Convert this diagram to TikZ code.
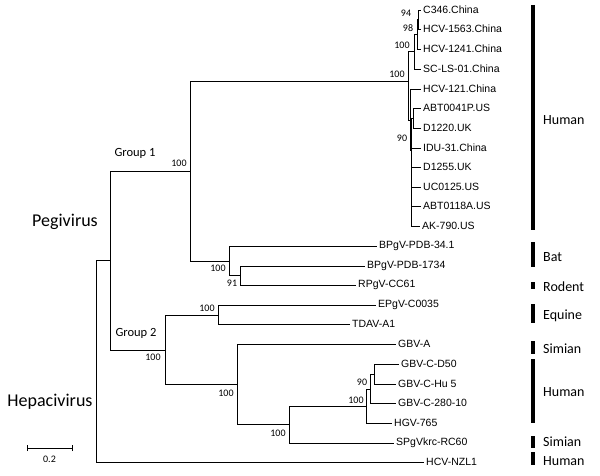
\documentclass[tikz,border=0pt]{standalone}
\usepackage{fontspec}
\setmainfont{Carlito}
\newfontfamily\arialf{Liberation Sans}
\begin{document}
\begin{tikzpicture}[x=1pt,y=-1pt,
  br/.style={draw=black,line width=0.8pt},
  leaf/.style={anchor=west,inner xsep=2pt,inner ysep=0pt,font=\arialf\fontsize{10.5}{12}\selectfont},
  boot/.style={inner sep=0pt,font=\fontsize{10}{11}\selectfont},
  grp/.style={inner sep=0pt,font=\fontsize{12.5}{14}\selectfont},
  genus/.style={inner sep=0pt,font=\fontsize{18}{20}\selectfont},
  host/.style={anchor=west,inner sep=0pt,font=\fontsize{14}{16}\selectfont},
  bar/.style={draw=black,line width=4.5pt}]
\useasboundingbox (0,0) rectangle (600,476);
% internal nodes
\coordinate (R) at (96,360);
\coordinate (P) at (110,260);
\coordinate (G1) at (190,171);
\coordinate (H) at (408,81);
\coordinate (A3) at (414,51.5);
\coordinate (A2) at (417,34);
\coordinate (A1) at (418,19.5);
\coordinate (B) at (410,120);
\coordinate (N90) at (411,150);
\coordinate (ABTD) at (413,118);
\coordinate (BR) at (229,261);
\coordinate (N91) at (240,275);
\coordinate (G2) at (165,350);
\coordinate (EQ) at (218,315);
\coordinate (SH) at (237,384);
\coordinate (GC) at (289,424);
\coordinate (NC) at (366,406);
\coordinate (N90b) at (370,389);
\coordinate (DH) at (374,374);
% leaves
\node[leaf] (l1) at (421,10) {C346.China};
\node[leaf] (l2) at (421,29) {HCV-1563.China};
\node[leaf] (l3) at (421,49) {HCV-1241.China};
\node[leaf] (l4) at (421,69) {SC-LS-01.China};
\node[leaf] (l5) at (421,89) {HCV-121.China};
\node[leaf] (l6) at (421,108) {ABT0041P.US};
\node[leaf] (l7) at (421,128) {D1220.UK};
\node[leaf] (l8) at (421,148) {IDU-31.China};
\node[leaf] (l9) at (421,167) {D1255.UK};
\node[leaf] (l10) at (421,187) {UC0125.US};
\node[leaf] (l11) at (421,206) {ABT0118A.US};
\node[leaf] (l12) at (420,226) {AK-790.US};
\node[leaf] (l13) at (377,246) {BPgV-PDB-34.1};
\node[leaf] (l14) at (365,266) {BPgV-PDB-1734};
\node[leaf] (l15) at (356,285) {RPgV-CC61};
\node[leaf] (l16) at (376,305) {EPgV-C0035};
\node[leaf] (l17) at (350,324) {TDAV-A1};
\node[leaf] (l18) at (396,344) {GBV-A};
\node[leaf] (l19) at (399,364) {GBV-C-D50};
\node[leaf] (l20) at (396,384) {GBV-C-Hu 5};
\node[leaf] (l21) at (396,403) {GBV-C-280-10};
\node[leaf] (l22) at (392,423) {HGV-765};
\node[leaf] (l23) at (394,443) {SPgVkrc-RC60};
\node[leaf] (l24) at (424,462) {HCV-NZL1};
% branches
\draw[br] (R) |- (P);
\draw[br] (R) |- (l24.west);
\draw[br] (P) |- (G1);
\draw[br] (P) |- (G2);
\draw[br] (G1) |- (H);
\draw[br] (G1) |- (BR);
\draw[br] (H) |- (A3);
\draw[br] (H) |- (B);
\draw[br] (A3) |- (A2);
\draw[br] (A3) |- (l4.west);
\draw[br] (A2) |- (A1);
\draw[br] (A2) |- (l3.west);
\draw[br] (A1) |- (l1.west);
\draw[br] (A1) |- (l2.west);
\draw[br] (B) |- (l5.west);
\draw[br] (B) |- (N90);
\draw[br] (N90) |- (ABTD);
\draw[br] (ABTD) |- (l6.west);
\draw[br] (ABTD) |- (l7.west);
\draw[br] (N90) |- (l8.west);
\draw[br] (N90) |- (l9.west);
\draw[br] (N90) |- (l10.west);
\draw[br] (N90) |- (l11.west);
\draw[br] (N90) |- (l12.west);
\draw[br] (BR) |- (l13.west);
\draw[br] (BR) |- (N91);
\draw[br] (N91) |- (l14.west);
\draw[br] (N91) |- (l15.west);
\draw[br] (G2) |- (EQ);
\draw[br] (G2) |- (SH);
\draw[br] (EQ) |- (l16.west);
\draw[br] (EQ) |- (l17.west);
\draw[br] (SH) |- (l18.west);
\draw[br] (SH) |- (GC);
\draw[br] (GC) |- (NC);
\draw[br] (GC) |- (l23.west);
\draw[br] (NC) |- (N90b);
\draw[br] (NC) |- (l22.west);
\draw[br] (N90b) |- (DH);
\draw[br] (N90b) |- (l21.west);
\draw[br] (DH) |- (l19.west);
\draw[br] (DH) |- (l20.west);
% bootstrap values
\node[boot] (b94) at (406,13) {94};
\node[boot] (b98) at (408,28) {98};
\node[boot] (b100a) at (402,45) {100};
\node[boot] (b100b) at (397,74) {100};
\node[boot] (b90) at (402,138) {90};
\node[boot] (b100g1) at (179,163) {100};
\node[boot] (b100bat) at (218,268) {100};
\node[boot] (b91) at (232,283) {91};
\node[boot] (b100eq) at (207,308) {100};
\node[boot] (b100g2) at (153,357) {100};
\node[boot] (b100sh) at (226,393) {100};
\node[boot] (b100gc) at (278,433) {100};
\node[boot] (b100c) at (356,400) {100};
\node[boot] (b90b) at (362,382) {90};
% group and genus labels
\node[grp] (g1) at (135,153) {Group 1};
\node[grp] (g2) at (136,333) {Group 2};
\node[genus] (peg) at (65,222) {Pegivirus};
\node[genus] (hep) at (50,402) {Hepacivirus};
% scale bar
\coordinate (s1) at (27,448);
\coordinate (s2) at (72,448);
\draw[br] (s1) -- (s2);
\draw[br] ([yshift=-3pt]s1) -- ([yshift=3pt]s1);
\draw[br] ([yshift=-3pt]s2) -- ([yshift=3pt]s2);
\node[boot] (sl) at (49.5,459) {0.2};
% host bars
\draw[bar] (533,5) -- (533,230);
\draw[bar] (533,242) -- (533,267);
\draw[bar] (533,282) -- (533,289);
\draw[bar] (533,304) -- (533,323);
\draw[bar] (533,341) -- (533,354);
\draw[bar] (533,359) -- (533,423);
\draw[bar] (533,436) -- (533,448);
\draw[bar] (533,452) -- (533,465);
\node[host] (h1) at (543,120) {Human};
\node[host] (h2) at (543,257) {Bat};
\node[host] (h3) at (543,287) {Rodent};
\node[host] (h4) at (543,316) {Equine};
\node[host] (h5) at (543,349) {Simian};
\node[host] (h6) at (543,392) {Human};
\node[host] (h7) at (543,442) {Simian};
\node[host] (h8) at (543,461) {Human};
\end{tikzpicture}
\end{document}
